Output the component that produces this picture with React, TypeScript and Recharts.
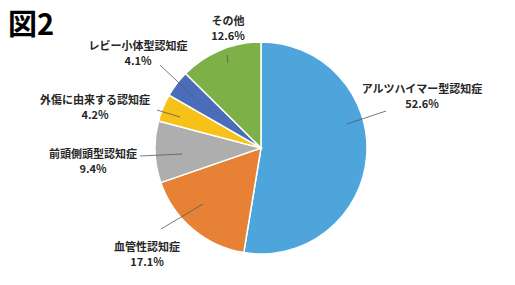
import { PieChart, Pie, Cell } from "recharts";

const categories = [
  "アルツハイマー型認知症",
  "血管性認知症",
  "前頭側頭型認知症",
  "外傷に由来する認知症",
  "レビー小体型認知症",
  "その他",
];
const shares = [52.6, 17.1, 9.4, 4.2, 4.1, 12.6];
const colors = ["#4EA5DC", "#E68135", "#AEAEAE", "#F6C219", "#4A6DBA", "#7DB047"];

// label text centre and leader line (from slice to label)
const labelLayout = [
  { x: 422, y: 88, line: [347, 124, 386, 111] },
  { x: 147, y: 246, line: [203, 204, 161, 229] },
  { x: 93, y: 153, line: [182, 154, 140, 156] },
  { x: 95, y: 99, line: [180, 117, 157, 110] },
  { x: 138, y: 45, line: [195, 98, 160, 65] },
  { x: 228, y: 20, line: [228, 63, 227, 55] },
];

const data = categories.map((name, i) => ({ name, value: shares[i] }));

const FONT = "'Noto Sans CJK JP', 'Noto Sans', sans-serif";

const renderLabel = (props: any) => {
  const { index } = props;
  const l = labelLayout[index];
  const [x1, y1, x2, y2] = l.line;
  return (
    <g>
      <line x1={x1} y1={y1} x2={x2} y2={y2} stroke="#595959" strokeWidth={0.8} />
      <text
        x={l.x}
        y={l.y}
        textAnchor="middle"
        dominantBaseline="central"
        fontFamily={FONT}
        fontWeight="bold"
        fontSize={11}
        fill="#262626"
      >
        {data[index].name}
      </text>
      <text
        x={l.x}
        y={l.y + 15}
        textAnchor="middle"
        dominantBaseline="central"
        fontFamily={FONT}
        fontWeight="bold"
        fontSize={11}
        fill="#262626"
      >
        {data[index].value.toFixed(1)}%
      </text>
    </g>
  );
};

export default function App() {
  return (
    <div style={{ position: "absolute", left: 0, top: 0, width: 515, height: 285, background: "#fff" }}>
      <div
        style={{
          position: "absolute",
          left: 8,
          top: 2,
          fontFamily: FONT,
          fontWeight: "bold",
          fontSize: 29,
          color: "#000",
          lineHeight: "40px",
        }}
      >
        図2
      </div>
      <PieChart width={515} height={285} margin={{ top: 0, right: 0, bottom: 0, left: 0 }}>
        <Pie
          data={data}
          dataKey="value"
          nameKey="name"
          cx={261}
          cy={148}
          outerRadius={106}
          startAngle={90}
          endAngle={-270}
          stroke="#fff"
          strokeWidth={1.5}
          label={renderLabel}
          labelLine={false}
          isAnimationActive={false}
        >
          {data.map((d, i) => (
            <Cell key={d.name} fill={colors[i]} />
          ))}
        </Pie>
      </PieChart>
    </div>
  );
}
